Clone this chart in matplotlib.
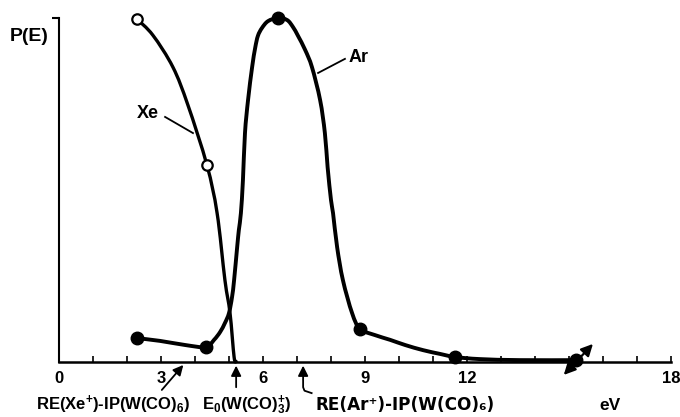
import matplotlib
matplotlib.use("Agg")
import matplotlib.pyplot as plt
from matplotlib.path import Path
from matplotlib.patches import PathPatch

plt.rcParams['font.family'] = ['Liberation Sans', 'DejaVu Sans']
plt.rcParams['font.weight'] = 'bold'
plt.rcParams['mathtext.fontset'] = 'custom'
plt.rcParams['mathtext.rm'] = 'Liberation Sans:bold'
plt.rcParams['mathtext.it'] = 'Liberation Sans:bold'
plt.rcParams['mathtext.bf'] = 'Liberation Sans:bold'

# ---- data ----
xe_curve_x = [2.29, 2.76, 3.35, 3.79, 4.35, 4.65, 4.88, 5.03, 5.15, 5.21]
xe_curve_y = [0.997, 0.950, 0.857, 0.747, 0.572, 0.432, 0.237, 0.141, 0.013, 0.0]
xe_pts_x = [2.29, 4.35]
xe_pts_y = [0.997, 0.572]

ar_curve_x = [2.29, 2.97, 3.71, 4.32, 4.56, 4.74, 4.88, 5.00, 5.09, 5.15, 5.24, 5.29, 5.35,
              5.41, 5.47, 5.56, 5.68, 5.77, 5.85, 5.97, 6.15, 6.44, 6.71, 6.88, 7.03,
              7.24, 7.44, 7.68, 7.82, 7.90, 8.00, 8.06, 8.18, 8.35, 8.62, 8.85, 9.29, 9.74,
              10.18, 10.71, 11.21, 11.65, 12.38, 13.56, 15.21]
ar_curve_y = [0.068, 0.060, 0.048, 0.042, 0.063, 0.086, 0.112, 0.141, 0.188, 0.237, 0.333,
              0.383, 0.432, 0.528, 0.665, 0.761, 0.857, 0.913, 0.948, 0.971, 0.991,
              1.0, 0.994, 0.974, 0.948, 0.907, 0.857, 0.761, 0.665, 0.566, 0.470, 0.432,
              0.333, 0.237, 0.141, 0.095, 0.077, 0.063, 0.048, 0.033, 0.022, 0.013, 0.007,
              0.004, 0.004]
ar_pts_x = [2.29, 4.32, 6.44, 8.85, 11.65, 15.2]
ar_pts_y = [0.068, 0.042, 1.0, 0.095, 0.013, 0.004]

tick_pos = list(range(0, 19))
tick_labels = ['0', '', '', '3', '', '', '6', '', '', '9', '', '', '12', '', '', '', '', '', '18']

marker_energies = [3.71, 5.21, 7.18]
marker_labels = [r'RE(Xe$^{+}$)-IP(W(CO)$_{6}$)', r'E$_{0}$(W(CO)$_{3}^{+}$)',
                 'RE(Ar⁺)-IP(W(CO)₆)']


def smooth_patch(xs, ys, lw):
    """Catmull-Rom curve through the given points, drawn as Bezier path."""
    pts = list(zip(xs, ys))
    n = len(pts)
    verts = [pts[0]]
    codes = [Path.MOVETO]
    for i in range(n - 1):
        p0 = pts[i - 1] if i > 0 else pts[i]
        p1 = pts[i]
        p2 = pts[i + 1]
        p3 = pts[i + 2] if i + 2 < n else pts[i + 1]
        c1 = (p1[0] + (p2[0] - p0[0]) / 6.0, p1[1] + (p2[1] - p0[1]) / 6.0)
        c2 = (p2[0] - (p3[0] - p1[0]) / 6.0, p2[1] - (p3[1] - p1[1]) / 6.0)
        verts += [c1, c2, p2]
        codes += [Path.CURVE4] * 3
    return PathPatch(Path(verts, codes), fill=False, lw=lw, edgecolor='black',
                     capstyle='round', joinstyle='round', clip_on=False, zorder=3)


# ---- figure ----
fig = plt.figure(figsize=(6.8, 4.17), dpi=100)
ax = fig.add_axes([59/680, (417-361.5)/417, 612/680, 343.5/417])
ax.set_xlim(0, 18)
ax.set_ylim(0, 1)

ax.add_patch(smooth_patch(xe_curve_x, xe_curve_y, 2.4))
ax.add_patch(smooth_patch(ar_curve_x, ar_curve_y, 2.8))
ax.plot(xe_pts_x, xe_pts_y, 'o', ms=7.5, mfc='white', mec='black', mew=1.6,
        clip_on=False, zorder=5)
ax.plot(ar_pts_x, ar_pts_y, 'o', ms=9, color='black', clip_on=False, zorder=5)

# spines / ticks
for s in ['top', 'right']:
    ax.spines[s].set_visible(False)
ax.spines['left'].set_linewidth(1.5)
ax.spines['bottom'].set_linewidth(1.8)
ax.set_xticks(tick_pos)
ax.set_xticklabels(tick_labels)
ax.tick_params(axis='x', direction='in', length=4, width=1.2, pad=7,
               labelsize=12)
ax.set_yticks([1])
ax.set_yticklabels([''])
ax.tick_params(axis='y', direction='out', length=5, width=1.5)

# labels
ax.text(-0.88, 0.945, 'P(E)', fontsize=14, ha='center', va='center', clip_on=False)
ax.text(2.62, 0.723, 'Xe', fontsize=13, ha='center', va='center')
ax.plot([3.12, 3.94], [0.712, 0.665], color='black', lw=1.3)
ax.text(8.82, 0.884, 'Ar', fontsize=13, ha='center', va='center')
ax.plot([7.62, 8.41], [0.840, 0.881], color='black', lw=1.3)

label_x = [1.6, 5.51, 10.18]
label_sizes = [12, 12, 12.2]
label_fams = [['Liberation Sans'], ['Liberation Sans'], ['DejaVu Sans']]
for lx, lab, fs, fam in zip(label_x, marker_labels, label_sizes, label_fams):
    ax.text(lx, -0.127, lab, fontsize=fs, family=fam, ha='center', va='center',
            clip_on=False)
ax.text(16.2, -0.127, 'eV', fontsize=12.5, ha='center', va='center', clip_on=False)

akw = dict(arrowstyle='-|>,head_length=0.6,head_width=0.3', color='black', lw=1.3)
ax.annotate('', xy=(marker_energies[0], -0.004), xytext=(2.97, -0.089),
            arrowprops=akw, annotation_clip=False)
ax.annotate('', xy=(marker_energies[1], -0.004), xytext=(marker_energies[1], -0.083),
            arrowprops=akw, annotation_clip=False)
ax.annotate('', xy=(marker_energies[2], -0.004), xytext=(marker_energies[2], -0.06),
            arrowprops=akw, annotation_clip=False)
ax.plot([7.18, 7.18, 7.22, 7.43], [-0.055, -0.075, -0.085, -0.092], color='black',
        lw=1.3, clip_on=False)

ax.annotate('', xy=(15.76, 0.057), xytext=(14.79, -0.045),
            arrowprops=dict(arrowstyle='<|-|>,head_length=0.7,head_width=0.35',
                            color='black', lw=1.6), annotation_clip=False)

fig.savefig('out.png', dpi=100)
